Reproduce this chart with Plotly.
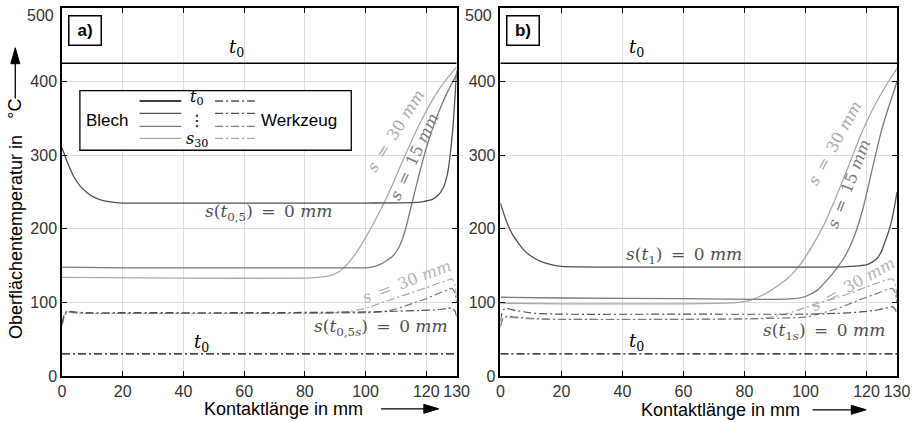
import plotly.graph_objects as go

# ---------------- data ----------------
x_range = [0, 130]
t0_sheet = 425     # initial sheet temperature
t0_tool = 30       # initial tool temperature

# panel a) – sheet (Blech)
a_s0_x = [0, 2, 4, 6, 8, 10, 13, 16, 20, 40, 60, 80, 100, 115, 119, 122, 124, 125.5, 127, 128, 129, 130]
a_s0_y = [310, 288, 270, 258, 250, 244, 239, 236.5, 235, 235, 235, 235, 235, 235.5, 237, 240, 246, 255, 275, 305, 350, 415]
a_s15_x = [0, 20, 60, 95, 100, 103, 105, 107, 109, 111, 113, 115, 117, 119, 121, 123, 125, 127, 130]
a_s15_y = [148, 147, 147, 147, 147, 149, 152, 157, 163, 175, 197, 230, 263, 295, 323, 347, 368, 386, 410]
a_s30_x = [0, 40, 80, 84, 88, 91, 94, 97, 100, 104, 108, 112, 116, 120, 124, 127, 130]
a_s30_y = [134, 133, 133, 134, 136, 141, 152, 168, 188, 218, 252, 290, 327, 360, 388, 405, 420]

# panel a) – tool (Werkzeug)
a_w0_x = [0, 0.5, 1, 2, 4, 8, 20, 60, 100, 110, 118, 124, 127, 128.5, 129.5, 130]
a_w0_y = [72, 80, 86, 88, 87, 86, 86, 86, 87, 88, 89, 90, 92, 92, 88, 80]
a_w15_x = [0, 0.5, 1, 2, 4, 8, 20, 60, 100, 105, 110, 115, 120, 124, 127, 128.5, 129.5, 130]
a_w15_y = [70, 78, 84, 87, 86, 85, 85, 85, 86, 87, 91, 98, 105, 112, 117, 119, 112, 99]
a_w30_x = [0, 0.5, 1, 2, 4, 8, 20, 60, 90, 95, 100, 105, 110, 115, 120, 124, 127, 128.5, 129.5, 130]
a_w30_y = [68, 76, 83, 87, 86, 85, 85, 85, 86, 88, 92, 99, 106, 113, 120, 126, 130, 132, 122, 106]

# panel b) – sheet (Blech)
b_s0_x = [0, 1, 2, 4, 6, 8, 10, 13, 16, 20, 40, 80, 110, 115, 118, 120, 122, 123.5, 125, 126, 127, 128, 129, 130]
b_s0_y = [235, 222, 210, 192, 180, 170, 163, 156, 152, 149, 148, 148, 148, 149, 150, 151, 155, 160, 170, 182, 193, 207, 226, 250]
b_s15_x = [0, 20, 60, 90, 96, 100, 104, 107, 110, 113, 116, 119, 122, 125, 127, 130]
b_s15_y = [107, 106, 105, 104, 105, 108, 117, 130, 145, 163, 190, 230, 283, 335, 362, 400]
b_s30_x = [0, 20, 60, 74, 78, 82, 86, 90, 94, 98, 102, 106, 110, 114, 118, 122, 126, 130]
b_s30_y = [99, 98, 98, 99, 100, 103, 110, 120, 132, 150, 175, 205, 243, 284, 326, 362, 392, 418]

# panel b) – tool (Werkzeug)
b_w0_x = [0, 0.5, 1, 2, 3, 5, 8, 12, 20, 60, 100, 110, 118, 124, 127, 128.5, 129.5, 130]
b_w0_y = [75, 85, 90, 92, 91, 89, 87, 85, 84, 84, 84, 85, 87, 90, 93, 94, 90, 84]
b_w15_x = [0, 0.5, 1, 2, 3, 5, 8, 12, 20, 60, 100, 105, 110, 115, 120, 124, 127, 128.5, 129.5, 130]
b_w15_y = [68, 75, 79, 81, 81, 80, 79, 78, 77, 77, 80, 85, 91, 99, 107, 113, 118, 119, 112, 99]
b_w30_x = [0, 0.5, 1, 2, 3, 5, 8, 12, 20, 60, 85, 90, 95, 100, 105, 110, 115, 120, 124, 127, 128.5, 129.5, 130]
b_w30_y = [66, 74, 78, 80, 80, 79, 78, 77, 77, 77, 78, 81, 86, 93, 100, 106, 113, 121, 127, 131, 132, 123, 107]

x_tickvals = [0, 20, 40, 60, 80, 100, 120, 130]
y_tickvals = [0, 100, 200, 300, 400, 500]
y_ticktext = ["0", "100", "200", "300", "400", ""]

# ---------------- styling ----------------
C_BLACK = "#000000"
C_DARK = "#505050"
C_MID = "#7a7a7a"
C_LIGHT = "#a8a8a8"
DASHDOT = "8px,3px,2px,3px"

W, H = 916, 422
ML, MR, MT, MB = 62, 14, 6, 46
PW, PH = W - ML - MR, H - MT - MB


def px_x(px):
    return (px - ML) / PW


def px_y(py):
    return (H - MB - py) / PH


fig = go.Figure()


def add_line(xs, ys, color, width, dash, xa, ya):
    fig.add_trace(go.Scatter(
        x=xs, y=ys, mode="lines", xaxis=xa, yaxis=ya,
        line=dict(color=color, width=width, dash=dash, shape="spline", smoothing=0.6),
        hoverinfo="skip", showlegend=False))


panels = [
    ("x", "y", (a_s0_x, a_s0_y), (a_s15_x, a_s15_y), (a_s30_x, a_s30_y),
     (a_w0_x, a_w0_y), (a_w15_x, a_w15_y), (a_w30_x, a_w30_y)),
    ("x2", "y2", (b_s0_x, b_s0_y), (b_s15_x, b_s15_y), (b_s30_x, b_s30_y),
     (b_w0_x, b_w0_y), (b_w15_x, b_w15_y), (b_w30_x, b_w30_y)),
]

for xa, ya, s0, s15, s30, w0, w15, w30 in panels:
    add_line(x_range, [t0_sheet, t0_sheet], C_BLACK, 1.5, "solid", xa, ya)
    add_line(x_range, [t0_tool, t0_tool], C_BLACK, 1.3, DASHDOT, xa, ya)
    add_line(*s30, C_LIGHT, 1.3, "solid", xa, ya)
    add_line(*s15, C_MID, 1.3, "solid", xa, ya)
    add_line(*s0, C_DARK, 1.3, "solid", xa, ya)
    add_line(*w30, C_LIGHT, 1.2, DASHDOT, xa, ya)
    add_line(*w15, C_MID, 1.2, DASHDOT, xa, ya)
    add_line(*w0, C_DARK, 1.2, DASHDOT, xa, ya)

axis_common = dict(
    showgrid=True, gridcolor="#dddddd", gridwidth=1,
    showline=True, linecolor="black", linewidth=1.5, mirror="ticks",
    ticks="inside", ticklen=5, tickcolor="black", tickwidth=1,
    zeroline=False, tickfont=dict(family="Liberation Sans, Arial", size=16, color="#333333"),
)

fig.update_layout(
    width=W, height=H,
    margin=dict(l=ML, r=MR, t=MT, b=MB),
    plot_bgcolor="white", paper_bgcolor="white",
    showlegend=False,
    xaxis=dict(domain=[0, px_x(459)], range=x_range, tickvals=x_tickvals, anchor="y", **axis_common),
    yaxis=dict(domain=[0, 1], range=[0, 500], tickvals=y_tickvals, ticktext=y_ticktext, anchor="x", **axis_common),
    xaxis2=dict(domain=[px_x(503), 1], range=x_range, tickvals=x_tickvals, anchor="y2", **axis_common),
    yaxis2=dict(domain=[0, 1], range=[0, 500], tickvals=y_tickvals, ticktext=y_ticktext, anchor="x2", **axis_common),
)

SANS = "Liberation Sans, Arial"
SERIF = "DejaVu Serif, serif"
EQ = "\u2002=\u2002"
ann = []
shapes = []


def text(px, py, t, size=17, color="black", family=SERIF, angle=0, **kw):
    ann.append(dict(x=px_x(px), y=px_y(py), xref="paper", yref="paper", text=t,
                    showarrow=False, textangle=angle, xanchor="center", yanchor="middle",
                    font=dict(family=family, size=size, color=color), **kw))


def seg(x0, y0, x1, y1, color="black", width=1.3, dash="solid"):
    shapes.append(dict(type="line", xref="paper", yref="paper",
                       x0=px_x(x0), y0=px_y(y0), x1=px_x(x1), y1=px_y(y1),
                       line=dict(color=color, width=width, dash=dash)))


def tri(pts):
    path = "M " + " L ".join(f"{px_x(a)},{px_y(b)}" for a, b in pts) + " Z"
    shapes.append(dict(type="path", xref="paper", yref="paper", path=path,
                       fillcolor="black", line=dict(color="black", width=1)))


# "500" labels sit slightly below the top edge
text(40, 14, "500", size=16, color="#333333", family=SANS)
text(481, 14, "500", size=16, color="#333333", family=SANS)

# panel tags
for cx, tag in [(85.5, "a)"), (525.5, "b)")]:
    ann.append(dict(x=px_x(cx), y=px_y(29), xref="paper", yref="paper", text=f"<b>{tag}</b>",
                    showarrow=False, xanchor="center", yanchor="middle",
                    width=27, height=24, bgcolor="white", bordercolor="black", borderwidth=1.5, borderpad=2,
                    font=dict(family=SANS, size=17, color="black")))

T0 = "<i>t</i><sub>0</sub>"
MM = "0 <i>mm</i>"

# curve labels – panel a)
text(238, 46, T0, size=18)
text(202, 343, T0, size=18)
text(270, 212, f"<i>s</i>(<i>t</i><sub>0,5</sub>){EQ}{MM}", color=C_DARK)
text(397, 130, f"<i>s</i>{EQ}30 <i>mm</i>", size=16, color=C_LIGHT, angle=-58)
text(416, 155, f"<i>s</i>{EQ}15 <i>mm</i>", size=16, color=C_MID, angle=-65)
text(409, 281, f"<i>s</i>{EQ}30 <i>mm</i>", size=16, color="#b4b4b4", angle=-21)
text(383, 327, f"<i>s</i>(<i>t</i><sub>0,5<i>s</i></sub>){EQ}{MM}", color=C_DARK)

# curve labels – panel b)
text(640, 46, T0, size=18)
text(640, 342, T0, size=18)
text(688, 255, f"<i>s</i>(<i>t</i><sub>1</sub>){EQ}{MM}", color=C_DARK)
text(839, 142, f"<i>s</i>{EQ}30 <i>mm</i>", size=16, color=C_LIGHT, angle=-61)
text(853, 183, f"<i>s</i>{EQ}15 <i>mm</i>", size=16, color=C_MID, angle=-69)
text(857, 284, f"<i>s</i>{EQ}30 <i>mm</i>", size=16, color="#b4b4b4", angle=-29)
text(829, 331, f"<i>s</i>(<i>t</i><sub>1<i>s</i></sub>){EQ}{MM}", color=C_DARK)

# legend box inside panel a)
shapes.append(dict(type="rect", xref="paper", yref="paper",
                   x0=px_x(80), y0=px_y(89), x1=px_x(353), y1=px_y(149),
                   line=dict(color="black", width=1.3), fillcolor="white", layer="above"))
leg_rows = [(99.5, C_BLACK), (112, C_DARK), (125, C_MID), (137, C_LIGHT)]
for ly, col in leg_rows:
    seg(140, ly, 182, ly, color=col, width=1.3)
    seg(216, ly, 256, ly, color=col, width=1.2, dash=DASHDOT)
text(108, 119, "Blech", size=17, family=SANS)
text(300, 119, "Werkzeug", size=17, family=SANS)
text(198, 96, T0, size=16)
text(198, 119, "⋮", size=16, family="DejaVu Sans")
text(198, 138, "<i>s</i><sub>30</sub>", size=16)

# axis titles with arrows
text(285, 409, "Kontaktlänge in mm", size=18, family=SANS)
seg(383, 409, 428, 409, width=1.3)
tri([(441, 409), (426, 404.5), (426, 413.5)])
text(724, 410, "Kontaktlänge in mm", size=18, family=SANS)
seg(817, 410, 858, 410, width=1.3)
tri([(871, 410), (856, 405.5), (856, 414.5)])

text(15, 236, "Oberflächentemperatur in", size=18, family=SANS, angle=-90)
text(15, 107, "°C", size=18, family=SANS, angle=-90)
seg(15, 97, 15, 60, width=1.3)
tri([(15, 46), (10.5, 62), (19.5, 62)])

fig.update_layout(annotations=ann, shapes=shapes)
fig.write_html("out.html")
